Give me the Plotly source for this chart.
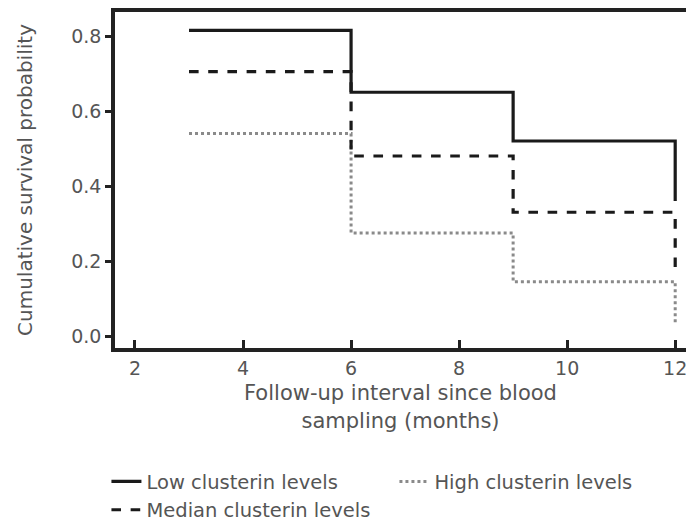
import plotly.graph_objects as go

# Follow-up months at which each survival estimate begins, plus the end of follow-up
interval_start = [3, 6, 9]
end_month = 12

low_surv = [0.815, 0.65, 0.52]
low_end = 0.36
median_surv = [0.705, 0.48, 0.33]
median_end = 0.17
high_surv = [0.54, 0.275, 0.145]
high_end = 0.03

x_ticks = [2, 4, 6, 8, 10, 12]
y_ticks = [0.0, 0.2, 0.4, 0.6, 0.8]


def step_path(starts, values, last_x, last_y):
    xs, ys = [], []
    for i, (s, v) in enumerate(zip(starts, values)):
        nxt = starts[i + 1] if i + 1 < len(starts) else last_x
        xs += [s, nxt]
        ys += [v, v]
    xs.append(last_x)
    ys.append(last_y)
    return xs, ys


fig = go.Figure()

series = [
    ("Low clusterin levels", low_surv, low_end, dict(color="#1a1a1a", width=3.2, dash="solid")),
    ("High clusterin levels", high_surv, high_end, dict(color="#8a8a8a", width=3, dash="dot")),
    ("Median clusterin levels", median_surv, median_end, dict(color="#1a1a1a", width=3.2, dash="dash")),
]

for name, vals, last, line in series:
    xs, ys = step_path(interval_start, vals, end_month, last)
    fig.add_trace(go.Scatter(x=xs, y=ys, mode="lines", name=name, line=line))

text_color = "#555555"
font_family = "DejaVu Sans, Liberation Sans, Arial, sans-serif"

fig.update_layout(
    width=686,
    height=527,
    margin=dict(l=115, r=0, t=12, b=179, autoexpand=False),
    paper_bgcolor="white",
    plot_bgcolor="white",
    font=dict(family=font_family, color=text_color, size=19),
    showlegend=True,
    legend=dict(
        orientation="h",
        x=-0.015,
        xanchor="left",
        y=-0.34,
        yanchor="top",
        entrywidth=243,
        entrywidthmode="pixels",
        font=dict(size=19.5, color=text_color),
        tracegroupgap=0,
    ),
)

fig.update_xaxes(
    range=[1.63, 12.2],
    tickvals=x_ticks,
    ticktext=[str(v) for v in x_ticks],
    ticklabeloverflow="allow",
    ticks="inside",
    ticklen=8,
    tickwidth=2.5,
    tickcolor="#222222",
    showline=True,
    linecolor="#222222",
    linewidth=3.5,
    mirror=True,
    showgrid=False,
    zeroline=False,
    tickfont=dict(size=19, color=text_color),
    title=dict(
        text="Follow-up interval since blood<br>sampling (months)",
        font=dict(size=21, color=text_color),
        standoff=9,
    ),
)

fig.update_yaxes(
    range=[-0.032, 0.864],
    tickvals=y_ticks,
    ticktext=[f"{v:.1f}" for v in y_ticks],
    ticks="outside",
    ticklen=6,
    tickwidth=2.5,
    tickcolor="#222222",
    showline=True,
    linecolor="#222222",
    linewidth=3.5,
    mirror=False,
    showgrid=False,
    zeroline=False,
    tickfont=dict(size=19, color=text_color),
    title=dict(
        text="Cumulative survival probability",
        font=dict(size=20, color=text_color),
        standoff=34,
    ),
)

fig.write_html("out.html")
